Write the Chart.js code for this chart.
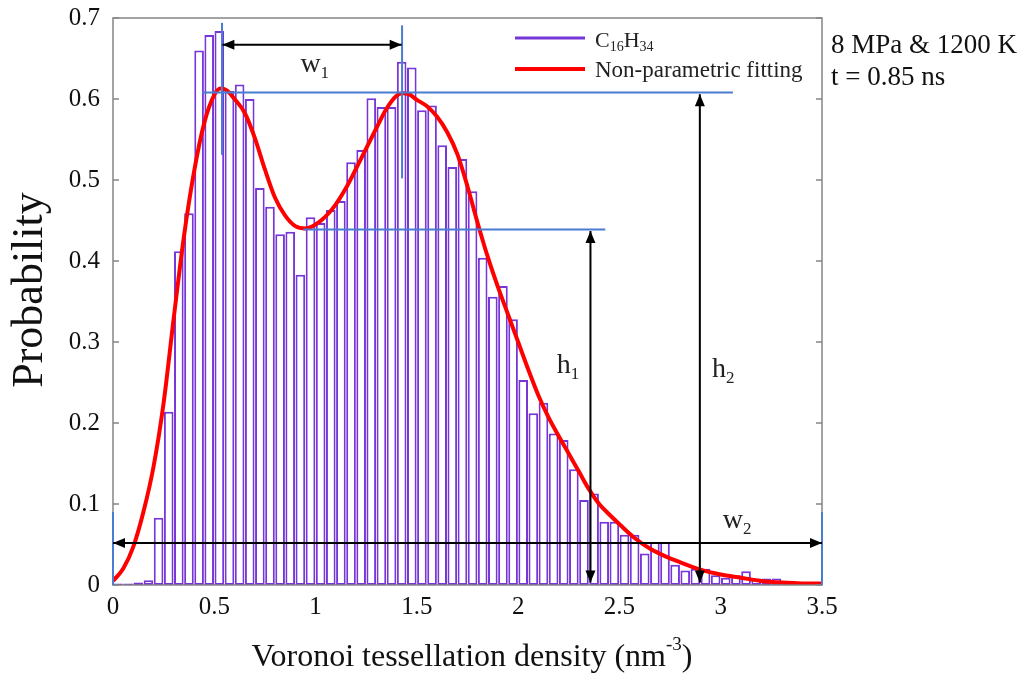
<!DOCTYPE html>
<html>
<head>
<meta charset="utf-8">
<script src="https://cdn.jsdelivr.net/npm/chart.js@4.4.0/dist/chart.umd.min.js"></script>
<style>
  html, body { margin: 0; padding: 0; background: #fff; }
</style>
</head>
<body>
<canvas id="grafico" width="1027" height="679"></canvas>
<script>
// dados do histograma (centros das classes, largura 0.05)
var centros = [
  0.025, 0.075, 0.125, 0.175, 0.225, 0.275, 0.325, 0.375, 0.425, 0.475,
  0.525, 0.575, 0.625, 0.675, 0.725, 0.775, 0.825, 0.875, 0.925, 0.975,
  1.025, 1.075, 1.125, 1.175, 1.225, 1.275, 1.325, 1.375, 1.425, 1.475,
  1.525, 1.575, 1.625, 1.675, 1.725, 1.775, 1.825, 1.875, 1.925, 1.975,
  2.025, 2.075, 2.125, 2.175, 2.225, 2.275, 2.325, 2.375, 2.425, 2.475,
  2.525, 2.575, 2.625, 2.675, 2.725, 2.775, 2.825, 2.875, 2.925, 2.975,
  3.025, 3.075, 3.125, 3.175, 3.225, 3.275, 3.325, 3.375, 3.425, 3.475
];
var probabilidade = [
  0.002, 0.002, 0.003, 0.006, 0.083, 0.214, 0.412, 0.459, 0.660, 0.679,
  0.684, 0.610, 0.618, 0.600, 0.490, 0.467, 0.433, 0.436, 0.383, 0.454,
  0.447, 0.463, 0.474, 0.522, 0.537, 0.601, 0.590, 0.590, 0.646, 0.639,
  0.586, 0.592, 0.543, 0.516, 0.526, 0.486, 0.404, 0.356, 0.369, 0.328,
  0.253, 0.212, 0.225, 0.187, 0.179, 0.143, 0.105, 0.113, 0.078, 0.078,
  0.062, 0.062, 0.039, 0.053, 0.053, 0.025, 0.018, 0.020, 0.020, 0.012,
  0.009, 0.012, 0.017, 0.008, 0.008, 0.008, 0.003, 0.002, 0.002, 0.001
];

// curva de ajuste nao parametrico
var ajusteX = [
  0, 0.05, 0.1, 0.15, 0.2, 0.25, 0.3, 0.35, 0.4, 0.45, 0.5, 0.53, 0.56, 0.6,
  0.65, 0.7, 0.75, 0.8, 0.85, 0.9, 0.95, 1.0, 1.05, 1.1, 1.15, 1.2, 1.25,
  1.3, 1.35, 1.4, 1.43, 1.46, 1.5, 1.55, 1.6, 1.65, 1.7, 1.75, 1.8, 1.85,
  1.9, 1.95, 2.0, 2.05, 2.1, 2.15, 2.2, 2.25, 2.3, 2.35, 2.4, 2.45, 2.5,
  2.57, 2.65, 2.73, 2.8, 2.9, 3.0, 3.1, 3.2, 3.3, 3.4, 3.5
];
var ajusteY = [
  0.005, 0.02, 0.047, 0.09, 0.146, 0.225, 0.33, 0.43, 0.51, 0.57, 0.605, 0.613, 0.611, 0.6,
  0.583, 0.552, 0.513, 0.478, 0.456, 0.443, 0.44, 0.445, 0.455, 0.47, 0.49, 0.514, 0.539,
  0.564, 0.588, 0.604, 0.607, 0.606, 0.599, 0.591, 0.578, 0.559, 0.532, 0.492, 0.447, 0.405,
  0.368, 0.334, 0.3, 0.266, 0.234, 0.207, 0.184, 0.162, 0.14, 0.118, 0.1, 0.087, 0.075,
  0.059, 0.045, 0.035, 0.028, 0.019, 0.013, 0.009, 0.005, 0.003, 0.002, 0.002
];

// anotacoes: linhas azuis [x1, y1, x2, y2]
var linhasAzuis = [
  [0.44, 0.608, 3.06, 0.608],
  [0.94, 0.439, 2.43, 0.439],
  [0.538, 0.694, 0.538, 0.531],
  [1.427, 0.691, 1.427, 0.502],
  [0, 0, 0, 0.09],
  [3.5, 0, 3.5, 0.09]
];
// setas duplas [x1, y1, x2, y2]
var setas = [
  [0.54, 0.667, 1.425, 0.667],
  [0, 0.052, 3.5, 0.052],
  [2.357, 0.437, 2.357, 0.003],
  [2.897, 0.606, 2.897, 0.003]
];
// rotulos [texto, indice, x, y]
var rotulos = [
  ["w", "1", 0.925, 0.633],
  ["h", "1", 2.19, 0.262],
  ["h", "2", 2.957, 0.257],
  ["w", "2", 3.01, 0.07]
];

var serif = "'Liberation Serif', 'Times New Roman', serif";
var roxo = "#7636d8";
var azul = "#4a7cd1";

function seta(ctx, x1, y1, x2, y2) {
  var ang = Math.atan2(y2 - y1, x2 - x1);
  var L = 12, W = 5;
  ctx.beginPath();
  ctx.moveTo(x1, y1);
  ctx.lineTo(x2, y2);
  ctx.stroke();
  [[x1, y1, ang + Math.PI], [x2, y2, ang]].forEach(function (p) {
    var hx = p[0], hy = p[1], a = p[2];
    ctx.beginPath();
    ctx.moveTo(hx, hy);
    ctx.lineTo(hx - L * Math.cos(a) + W * Math.sin(a), hy - L * Math.sin(a) - W * Math.cos(a));
    ctx.lineTo(hx - L * Math.cos(a) - W * Math.sin(a), hy - L * Math.sin(a) + W * Math.cos(a));
    ctx.closePath();
    ctx.fill();
  });
}

// texto com subscrito / sobrescrito
function textoIndice(ctx, base, indice, x, y, tam, desloc) {
  ctx.font = tam + "px " + serif;
  ctx.fillText(base, x, y);
  var w = ctx.measureText(base).width;
  ctx.font = Math.round(tam * 0.62) + "px " + serif;
  ctx.fillText(indice, x + w, y + desloc);
  return w + ctx.measureText(indice).width;
}

var notas = {
  id: "notas",
  afterDatasetsDraw: function (chart) {
    var ctx = chart.ctx, a = chart.chartArea;
    var sx = chart.scales.x, sy = chart.scales.y;
    ctx.save();

    // moldura
    ctx.strokeStyle = "#858585";
    ctx.lineWidth = 1.5;
    ctx.strokeRect(a.left, a.top, a.right - a.left, a.bottom - a.top);

    // marcas internas do eixo y (esquerda e direita)
    sy.ticks.forEach(function (t) {
      var yy = sy.getPixelForValue(t.value);
      ctx.beginPath();
      ctx.moveTo(a.left, yy); ctx.lineTo(a.left + 6, yy);
      ctx.moveTo(a.right, yy); ctx.lineTo(a.right - 6, yy);
      ctx.stroke();
    });

    // linhas azuis
    ctx.strokeStyle = azul;
    ctx.lineWidth = 2;
    linhasAzuis.forEach(function (l) {
      ctx.beginPath();
      ctx.moveTo(sx.getPixelForValue(l[0]), sy.getPixelForValue(l[1]));
      ctx.lineTo(sx.getPixelForValue(l[2]), sy.getPixelForValue(l[3]));
      ctx.stroke();
    });

    // setas
    ctx.strokeStyle = "#000";
    ctx.fillStyle = "#000";
    ctx.lineWidth = 2;
    setas.forEach(function (s) {
      seta(ctx, sx.getPixelForValue(s[0]), sy.getPixelForValue(s[1]),
        sx.getPixelForValue(s[2]), sy.getPixelForValue(s[3]));
    });

    // rotulos w1, h1, h2, w2
    ctx.fillStyle = "#222";
    ctx.textBaseline = "alphabetic";
    ctx.textAlign = "left";
    rotulos.forEach(function (r) {
      textoIndice(ctx, r[0], r[1], sx.getPixelForValue(r[2]), sy.getPixelForValue(r[3]), 28, 6);
    });

    // legenda
    ctx.lineWidth = 3;
    ctx.strokeStyle = roxo;
    ctx.beginPath(); ctx.moveTo(515, 38); ctx.lineTo(585, 38); ctx.stroke();
    ctx.lineWidth = 4;
    ctx.strokeStyle = "#ff0000";
    ctx.beginPath(); ctx.moveTo(515, 69); ctx.lineTo(585, 69); ctx.stroke();
    ctx.fillStyle = "#222";
    var xx = 595;
    xx += textoIndice(ctx, "C", "16", xx, 47, 22, 4);
    textoIndice(ctx, "H", "34", xx, 47, 22, 4);
    ctx.font = "23px " + serif;
    ctx.fillText("Non-parametric fitting", 595, 77);

    // condicoes
    ctx.font = "27px " + serif;
    ctx.fillStyle = "#111";
    ctx.fillText("8 MPa & 1200 K", 831, 53);
    ctx.fillText("t = 0.85 ns", 831, 85);

    // titulo do eixo x
    ctx.font = "32px " + serif;
    var t1 = "Voronoi tessellation density (nm";
    var w1 = ctx.measureText(t1).width;
    ctx.font = "19px " + serif;
    var w2 = ctx.measureText("-3").width;
    ctx.font = "32px " + serif;
    var w3 = ctx.measureText(")").width;
    var x0 = 472 - (w1 + w2 + w3) / 2;
    ctx.fillText(t1, x0, 666);
    ctx.font = "19px " + serif;
    ctx.fillText("-3", x0 + w1, 650);
    ctx.font = "32px " + serif;
    ctx.fillText(")", x0 + w1 + w2, 666);

    // titulo do eixo y
    ctx.translate(30, 290);
    ctx.rotate(-Math.PI / 2);
    ctx.textAlign = "center";
    ctx.textBaseline = "middle";
    ctx.font = "44px " + serif;
    ctx.fillText("Probability", 0, 0);

    ctx.restore();
  }
};

function rotuloEixo(v) {
  return String(Number(v.toFixed(2)));
}

var ctx = document.getElementById("grafico");
var myChart = new Chart(ctx, {
  type: "bar",
  data: {
    datasets: [
      {
        type: "line",
        label: "Non-parametric fitting",
        data: ajusteX.map(function (x, i) { return { x: x, y: ajusteY[i] }; }),
        borderColor: "#ff0000",
        borderWidth: 4,
        pointRadius: 0,
        cubicInterpolationMode: "monotone",
        order: 1
      },
      {
        type: "bar",
        label: "C16H34",
        data: centros.map(function (x, i) { return { x: x, y: probabilidade[i] }; }),
        backgroundColor: "#ffffff",
        borderColor: roxo,
        borderWidth: 2,
        borderSkipped: false,
        barPercentage: 0.95,
        categoryPercentage: 1,
        order: 2
      }
    ]
  },
  options: {
    responsive: false,
    animation: false,
    layout: { padding: { top: 18, right: 205, left: 0, bottom: 0 } },
    plugins: { legend: { display: false }, tooltip: { enabled: false } },
    scales: {
      x: {
        type: "linear",
        min: 0,
        max: 3.5,
        offset: false,
        grid: { display: false, drawTicks: false },
        border: { display: false },
        ticks: { stepSize: 0.5, color: "#111", padding: 7, maxRotation: 0, font: { family: serif, size: 25 }, callback: rotuloEixo },
        afterFit: function (s) { s.height = 94; }
      },
      y: {
        min: 0,
        max: 0.7,
        grid: { display: false, drawTicks: false },
        border: { display: false },
        ticks: { stepSize: 0.1, color: "#111", padding: 13, font: { family: serif, size: 25, lineHeight: 0.4 }, callback: rotuloEixo },
        afterFit: function (s) { s.width = 113; }
      }
    }
  },
  plugins: [notas]
});
</script>
</body>
</html>
